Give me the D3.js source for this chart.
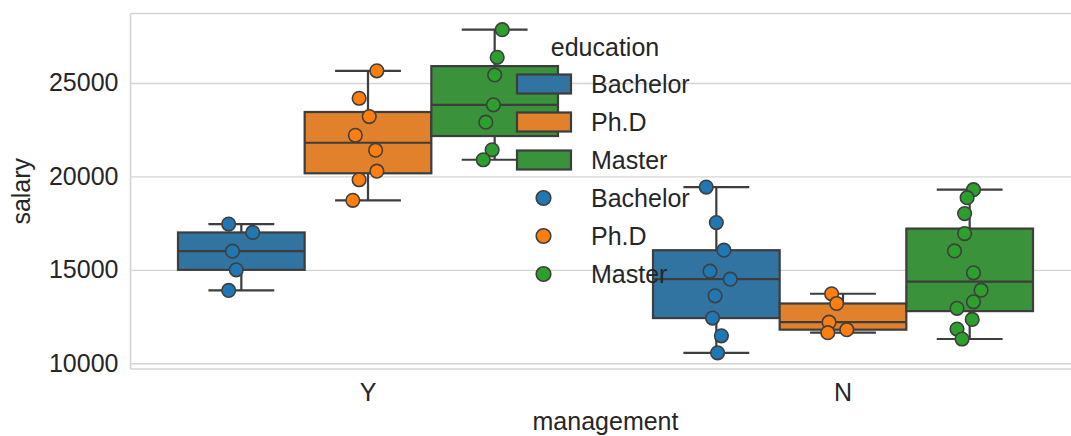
<!DOCTYPE html>
<html>
<head>
<meta charset="utf-8">
<script src="https://cdn.jsdelivr.net/npm/d3@7"></script>
<style>
  html, body { margin: 0; padding: 0; background: #fff; }
  svg { display: block; }
  text { font-family: "Liberation Sans", Arial, sans-serif; fill: #262626; }
</style>
</head>
<body>
<svg id="chart" width="1071" height="436"></svg>
<script>
// ---------------- data ----------------
const categories = ["Y", "N"];
const hues = ["Bachelor", "Ph.D", "Master"];
const yTicks = [10000, 15000, 20000, 25000];

// salary values per (management, education)
const bachelorY = [17450, 17000, 16000, 15000, 13900];
const phdY      = [25650, 24180, 23200, 22200, 21400, 20280, 19820, 18720];
const masterY   = [27850, 26370, 25430, 23830, 22900, 21420, 20890];
const bachelorN = [19430, 17530, 16050, 14930, 14500, 13610, 12420, 11470, 10560];
const phdN      = [13720, 13200, 12200, 11640, 11800];
const masterN   = [19290, 18860, 18010, 16940, 16010, 14840, 13910, 13290, 12940, 12350, 11830, 11300];

// strip-plot jitter (fraction of the box width) for each point above
const jitterBachelorY = [-0.10, 0.09, -0.07, -0.04, -0.10];
const jitterPhdY      = [0.07, -0.07, 0.01, -0.10, 0.06, 0.07, -0.07, -0.12];
const jitterMasterY   = [0.06, 0.02, 0.00, -0.01, -0.07, -0.02, -0.09];
const jitterBachelorN = [-0.08, 0.00, 0.06, -0.05, 0.11, -0.01, -0.03, 0.04, 0.01];
const jitterPhdN      = [-0.09, -0.05, -0.11, -0.12, 0.03];
const jitterMasterN   = [0.03, -0.02, -0.04, -0.04, -0.12, 0.03, 0.09, 0.03, -0.10, 0.02, -0.10, -0.06];

const groups = [
  { cat: "Y", hue: "Bachelor", values: bachelorY, jitter: jitterBachelorY },
  { cat: "Y", hue: "Ph.D",     values: phdY,      jitter: jitterPhdY },
  { cat: "Y", hue: "Master",   values: masterY,   jitter: jitterMasterY },
  { cat: "N", hue: "Bachelor", values: bachelorN, jitter: jitterBachelorN },
  { cat: "N", hue: "Ph.D",     values: phdN,      jitter: jitterPhdN },
  { cat: "N", hue: "Master",   values: masterN,   jitter: jitterMasterN }
];

// ---------------- styles ----------------
const boxColors   = { "Bachelor": "#3274a1", "Ph.D": "#e1812c", "Master": "#3a923a" };
const pointColors = { "Bachelor": "#1f77b4", "Ph.D": "#ff7f0e", "Master": "#2ca02c" };
const edge = "#3d3d3d";
const gridColor = "#d4d4d4";
const FS = 25;

// ---------------- layout ----------------
const pLeft = 130.5, pRight = 1080.5, pTop = 13.5, pBottom = 369;
const svg = d3.select("#chart");

const x = d3.scaleBand().domain(categories).range([pLeft, pRight]).padding(0);
const hx = d3.scaleBand().domain(hues).range([0.1 * x.bandwidth(), 0.9 * x.bandwidth()]).padding(0);

const allVals = groups.flatMap(g => g.values);
const [mn, mx] = d3.extent(allVals);
const pad = (mx - mn) * 0.05;
const y = d3.scaleLinear().domain([mn - pad, mx + pad]).range([pBottom, pTop]);

// grid lines
const yAxis = d3.axisLeft(y).tickValues(yTicks).tickSize(-(pRight - pLeft)).tickFormat(d3.format("d")).tickPadding(12);
const gAxis = svg.append("g").attr("transform", `translate(${pLeft},0)`).call(yAxis);
gAxis.select(".domain").remove();
gAxis.selectAll(".tick line").attr("stroke", gridColor).attr("stroke-width", 1.4);
gAxis.selectAll(".tick text")
  .style("font-size", FS + "px")
  .attr("fill", "#262626")
  .style("font-family", '"Liberation Sans", Arial, sans-serif');

// spines
svg.append("line").attr("x1", pLeft).attr("x2", pLeft).attr("y1", pTop).attr("y2", pBottom)
  .attr("stroke", gridColor).attr("stroke-width", 1.6);
svg.append("line").attr("x1", pLeft).attr("x2", pRight).attr("y1", pTop).attr("y2", pTop)
  .attr("stroke", gridColor).attr("stroke-width", 1.6);
svg.append("line").attr("x1", pLeft).attr("x2", pRight).attr("y1", pBottom).attr("y2", pBottom)
  .attr("stroke", gridColor).attr("stroke-width", 1.6);

// x tick labels
const xAxis = d3.axisBottom(x).tickSize(0).tickPadding(14);
const gx = svg.append("g").attr("transform", `translate(0,${pBottom})`).call(xAxis);
gx.select(".domain").remove();
gx.selectAll(".tick text").style("font-size", FS + "px").attr("fill", "#262626")
  .style("font-family", '"Liberation Sans", Arial, sans-serif');

// axis labels
svg.append("text").attr("x", (pLeft + pRight) / 2).attr("y", 430)
  .attr("text-anchor", "middle").style("font-size", FS + "px").text("management");
svg.append("text").attr("transform", `translate(30,${(pTop + pBottom) / 2}) rotate(-90)`)
  .attr("text-anchor", "middle").style("font-size", FS + "px").text("salary");

// boxes
const bw = hx.bandwidth();
const boxG = svg.append("g");
groups.forEach(g => {
  const s = g.values.slice().sort(d3.ascending);
  const q1 = d3.quantile(s, 0.25), med = d3.quantile(s, 0.5), q3 = d3.quantile(s, 0.75);
  const iqr = q3 - q1;
  const lo = d3.min(s.filter(v => v >= q1 - 1.5 * iqr));
  const hi = d3.max(s.filter(v => v <= q3 + 1.5 * iqr));
  const x0 = x(g.cat) + hx(g.hue);
  const cx = x0 + bw / 2;
  const cap = bw * 0.26;
  const gg = boxG.append("g").attr("stroke", edge).attr("stroke-width", 2.2);
  gg.append("line").attr("x1", cx).attr("x2", cx).attr("y1", y(q3)).attr("y2", y(hi));
  gg.append("line").attr("x1", cx).attr("x2", cx).attr("y1", y(q1)).attr("y2", y(lo));
  gg.append("line").attr("x1", cx - cap).attr("x2", cx + cap).attr("y1", y(hi)).attr("y2", y(hi));
  gg.append("line").attr("x1", cx - cap).attr("x2", cx + cap).attr("y1", y(lo)).attr("y2", y(lo));
  gg.append("rect").attr("x", x0).attr("width", bw).attr("y", y(q3)).attr("height", y(q1) - y(q3))
    .attr("fill", boxColors[g.hue]);
  gg.append("line").attr("x1", x0).attr("x2", x0 + bw).attr("y1", y(med)).attr("y2", y(med));
});

// points
const ptG = svg.append("g");
groups.forEach(g => {
  const cx = x(g.cat) + hx(g.hue) + bw / 2;
  ptG.selectAll(null).data(g.values.map((v, i) => ({ v, j: g.jitter[i] })))
    .enter().append("circle")
    .attr("cx", d => cx + d.j * bw)
    .attr("cy", d => y(d.v))
    .attr("r", 6.8)
    .attr("fill", pointColors[g.hue])
    .attr("stroke", "#3f3f3f").attr("stroke-width", 1.6);
});

// legend
const lg = svg.append("g");
lg.append("text").attr("x", 605).attr("y", 56).attr("text-anchor", "middle")
  .style("font-size", FS + "px").text("education");
hues.forEach((h, i) => {
  const cy = 84 + i * 38;
  lg.append("rect").attr("x", 517).attr("y", cy - 9.5).attr("width", 54).attr("height", 19)
    .attr("fill", boxColors[h]).attr("stroke", edge).attr("stroke-width", 2.2);
  lg.append("text").attr("x", 591).attr("y", cy).attr("dy", "0.35em")
    .style("font-size", FS + "px").text(h);
});
hues.forEach((h, i) => {
  const cy = 198 + i * 38;
  lg.append("circle").attr("cx", 543.5).attr("cy", cy).attr("r", 7.3)
    .attr("fill", pointColors[h]).attr("stroke", "#3f3f3f").attr("stroke-width", 1.6);
  lg.append("text").attr("x", 591).attr("y", cy).attr("dy", "0.35em")
    .style("font-size", FS + "px").text(h);
});
</script>
</body>
</html>
